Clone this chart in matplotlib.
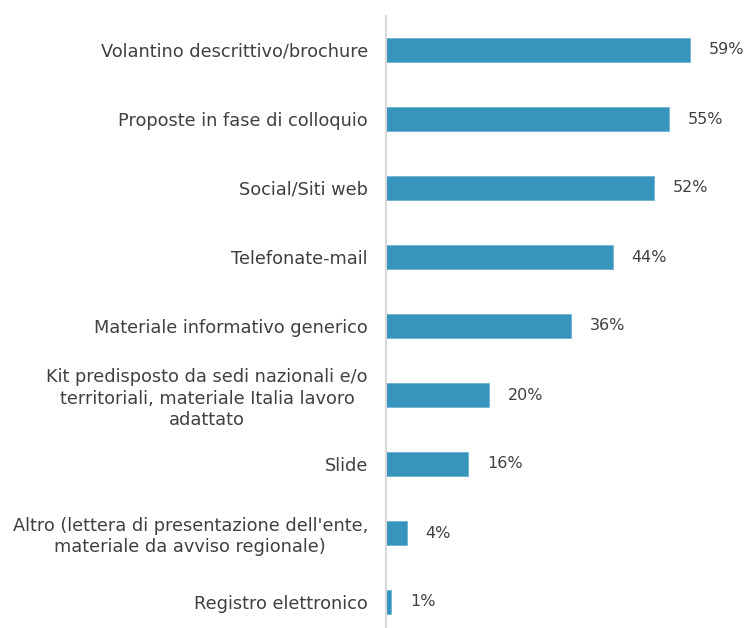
import matplotlib
matplotlib.use("Agg")
import matplotlib.pyplot as plt

# data (top to bottom as shown)
categories = [
    "Volantino descrittivo/brochure",
    "Proposte in fase di colloquio",
    "Social/Siti web",
    "Telefonate-mail",
    "Materiale informativo generico",
    "Kit predisposto da sedi nazionali e/o\nterritoriali, materiale Italia lavoro\nadattato",
    "Slide",
    "Altro (lettera di presentazione dell'ente,\nmateriale da avviso regionale)",
    "Registro elettronico",
]
values = [59, 55, 52, 44, 36, 20, 16, 4, 1]

bar_color = "#3795bd"
text_color = "#404040"

plt.rcParams["font.family"] = "DejaVu Sans"

fig = plt.figure(figsize=(7.44, 6.28), dpi=100)
ax = fig.add_axes([386 / 744, (628 - 636.5) / 628, 1 - 386 / 744, 621 / 628])

pos = list(range(len(categories)))
ax.barh(pos, values, height=0.35, color=bar_color, edgecolor="#6fb3d2", linewidth=0.6)

ax.set_ylim(len(categories) - 0.5, -0.5)
ax.set_xlim(0, 69.5)

ax.set_yticks(pos)
ax.set_yticklabels(categories, fontsize=12.8, color=text_color,
                   multialignment="center", linespacing=1.25)
ax.tick_params(axis="y", length=0, pad=13)
ax.set_xticks([])

for s in ["top", "right", "bottom"]:
    ax.spines[s].set_visible(False)
ax.spines["left"].set_color("#d9d9d9")
ax.spines["left"].set_linewidth(1.5)

# value labels
for p, v in zip(pos, values):
    ax.annotate("%d%%" % v, xy=(v, p), xytext=(13.5, 0), textcoords="offset points",
                va="center", ha="left", fontsize=11.5, color=text_color)

fig.savefig("out.png", dpi=100)
